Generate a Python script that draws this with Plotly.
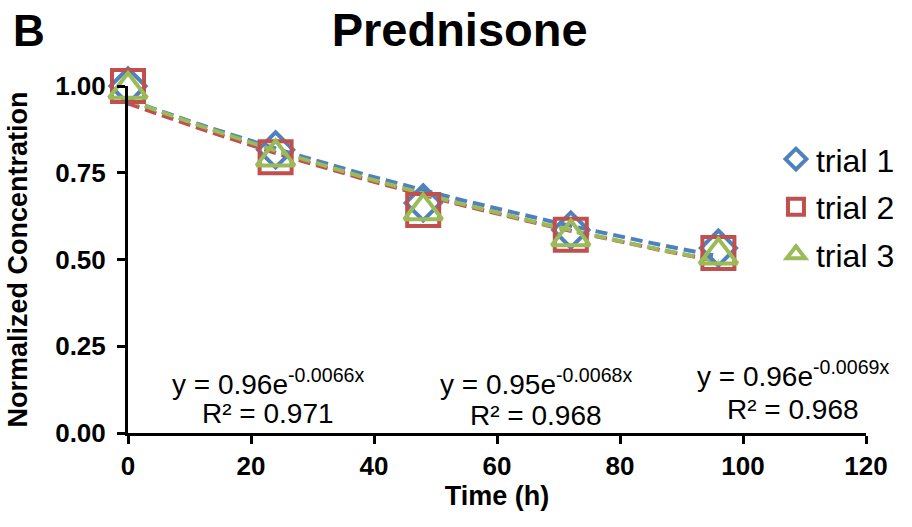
import numpy as np
import plotly.graph_objects as go

time_h = [0, 24, 48, 72, 96]
trial1 = [1.00, 0.816, 0.663, 0.585, 0.533]
trial2 = [1.00, 0.795, 0.643, 0.571, 0.519]
trial3 = [0.99, 0.795, 0.640, 0.565, 0.512]
series_names = ["trial 1", "trial 2", "trial 3"]
fit_a = [0.96, 0.95, 0.96]
fit_k = [-0.0066, -0.0068, -0.0069]
fit_r2 = ["0.971", "0.968", "0.968"]
colors = ["#4F81BD", "#C0504D", "#9BBB59"]
symbols = ["diamond-open", "square-open", "triangle-up-open"]
sizes = [27, 32, 33]
x_ticks = [0, 20, 40, 60, 80, 100, 120]
y_ticks = [0, 0.25, 0.5, 0.75, 1.0]

FONT = "Liberation Sans, Arial, sans-serif"
fig = go.Figure()

xs = np.linspace(0, 96, 100)
for i, a in enumerate(fit_a):
    fig.add_trace(go.Scatter(
        x=xs, y=a * np.exp(fit_k[i] * xs), mode="lines",
        line=dict(color=colors[i], width=4, dash="12px,6px"),
        showlegend=False, hoverinfo="skip", cliponaxis=False))

for i, ys in enumerate([trial1, trial2, trial3]):
    fig.add_trace(go.Scatter(
        x=time_h, y=ys, mode="markers", name=series_names[i],
        legendgroup=series_names[i],
        marker=dict(symbol=symbols[i], size=sizes[i], color=colors[i],
                    line=dict(width=4, color=colors[i])),
        cliponaxis=False))

eq_x = [22.7, 66.3, 108.2]
eq_y1 = [0.148, 0.146, 0.170]
eq_y2 = [0.055, 0.050, 0.069]
for i in range(3):
    fig.add_annotation(
        x=eq_x[i], y=eq_y1[i], xref="x", yref="y", showarrow=False,
        text=f"y = {fit_a[i]:.2f}e<sup>{fit_k[i]}x</sup>",
        font=dict(family=FONT, size=28, color="black"), yanchor="middle")
    fig.add_annotation(
        x=eq_x[i], y=eq_y2[i], xref="x", yref="y", showarrow=False,
        text=f"R² = {fit_r2[i]}",
        font=dict(family=FONT, size=28, color="black"), yanchor="middle")

fig.add_annotation(x=-0.159, y=1.16, xref="paper", yref="paper", text="<b>B</b>",
                   xanchor="left", yanchor="middle", showarrow=False,
                   font=dict(family=FONT, size=44, color="black"))

fig.update_layout(
    width=912, height=527,
    margin=dict(l=128, r=44, t=86, b=94),
    paper_bgcolor="white", plot_bgcolor="white",
    font=dict(family=FONT, color="black"),
    title=dict(text="<b>Prednisone</b>", x=0.504, xanchor="center", y=0.943, yanchor="middle",
               font=dict(family=FONT, size=47, color="black")),
    legend=dict(x=0.878, y=0.868, xanchor="left", yanchor="top",
                font=dict(family=FONT, size=32, color="black"),
                bgcolor="rgba(0,0,0,0)", tracegroupgap=3, traceorder="grouped",
                itemwidth=30),
    xaxis=dict(range=[0, 120], tickvals=x_ticks, ticktext=[str(v) for v in x_ticks],
               showgrid=False, zeroline=False, showline=True, linecolor="black", linewidth=3,
               ticks="outside", ticklen=8, tickwidth=3, tickcolor="black",
               tickfont=dict(family=FONT, size=26, color="black", weight="bold"),
               title=dict(text="<b>Time (h)</b>", font=dict(family=FONT, size=27), standoff=6)),
    yaxis=dict(range=[0, 1.0], tickvals=y_ticks, tickformat=".2f",
               showgrid=False, zeroline=False, showline=True, linecolor="black", linewidth=3,
               ticks="outside", ticklen=8, tickwidth=3, tickcolor="black",
               ticklabelstandoff=6,
               tickfont=dict(family=FONT, size=26, color="black", weight="bold"),
               title=dict(text="<b>Normalized Concentration</b>", font=dict(family=FONT, size=27), standoff=20)),
)

fig.write_html("out.html")
